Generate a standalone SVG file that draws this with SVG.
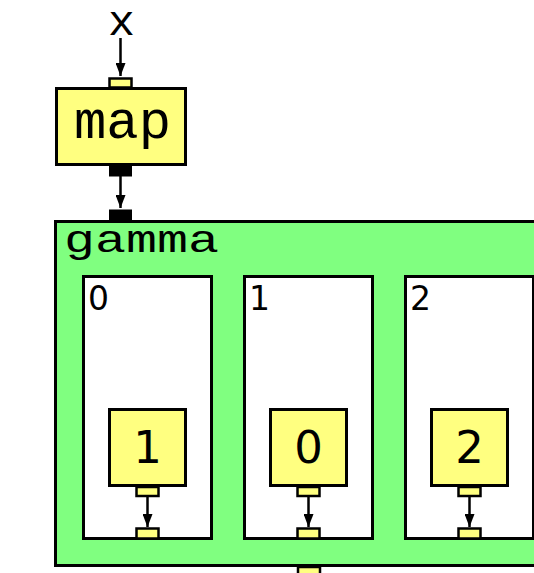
<svg xmlns="http://www.w3.org/2000/svg" width="534" height="573" viewBox="0 0 534 573">
<style>
.node{fill:#FFFF80;stroke:#000;stroke-width:3}
.port{fill:#FFFF80;stroke:#000;stroke-width:2.5}
.bport{fill:#000;stroke:#000;stroke-width:1}
.cont{fill:#80FF80;stroke:#000;stroke-width:3}
.sub{fill:#fff;stroke:#000;stroke-width:3}
.mono{font-family:"Courier New","Liberation Mono",monospace;fill:#000}
.sans{font-family:"DejaVu Sans",sans-serif;fill:#000}
.edge{stroke:#000;stroke-width:2.5;fill:none}
</style>
<defs>
<marker id="arrow" markerWidth="13" markerHeight="10" refX="13" refY="5" orient="auto" markerUnits="userSpaceOnUse">
<path d="M0,0 L13,5 L0,10 Z" fill="#000"/>
</marker>
</defs>
<g id="input-x">
<text class="mono" x="108" y="35" font-size="42" textLength="27" lengthAdjust="spacingAndGlyphs">x</text>
</g>
<g id="map">
<rect class="node" x="56.5" y="88.5" width="129" height="76"/>
<rect class="port" x="109.5" y="78.5" width="22" height="9"/>
<rect class="bport" x="109.5" y="166" width="22" height="10"/>
<text class="mono" x="74" y="138" font-size="54" textLength="97" lengthAdjust="spacingAndGlyphs">map</text>
</g>
<g id="gamma">
<rect class="cont" x="55.5" y="221.5" width="600" height="344"/>
<rect class="bport" x="109.5" y="210" width="22" height="11"/>
<rect class="port" x="298" y="567" width="22" height="12"/>
<text class="mono" x="64" y="252" font-size="38" textLength="155" lengthAdjust="spacingAndGlyphs">gamma</text>
</g>
<g id="branch-0">
<rect class="sub" x="83.5" y="276.5" width="128" height="262"/>
<text class="sans" x="88" y="310" font-size="33">0</text>
<g id="node-1">
<rect class="node" x="109.5" y="409.5" width="76" height="76"/>
<text class="sans" x="147.5" y="463" font-size="45" text-anchor="middle">1</text>
<rect class="port" x="136.5" y="487" width="22" height="9"/>
</g>
<rect class="port" x="136.5" y="528.5" width="22" height="10"/>
</g>
<g id="branch-1">
<rect class="sub" x="244.5" y="276.5" width="128" height="262"/>
<text class="sans" x="249" y="310" font-size="33">1</text>
<g id="node-0">
<rect class="node" x="270.5" y="409.5" width="76" height="76"/>
<text class="sans" x="308.5" y="463" font-size="45" text-anchor="middle">0</text>
<rect class="port" x="297.5" y="487" width="22" height="9"/>
</g>
<rect class="port" x="297.5" y="528.5" width="22" height="10"/>
</g>
<g id="branch-2">
<rect class="sub" x="405.5" y="276.5" width="128" height="262"/>
<text class="sans" x="410" y="310" font-size="33">2</text>
<g id="node-2">
<rect class="node" x="431.5" y="409.5" width="76" height="76"/>
<text class="sans" x="469.5" y="463" font-size="45" text-anchor="middle">2</text>
<rect class="port" x="458.5" y="487" width="22" height="9"/>
</g>
<rect class="port" x="458.5" y="528.5" width="22" height="10"/>
</g>
<g id="connectors">
<line class="edge" x1="120.5" y1="38" x2="120.5" y2="76" marker-end="url(#arrow)"/>
<line class="edge" x1="120.5" y1="176" x2="120.5" y2="208" marker-end="url(#arrow)"/>
<line class="edge" x1="147.5" y1="496" x2="147.5" y2="527" marker-end="url(#arrow)"/>
<line class="edge" x1="308.5" y1="496" x2="308.5" y2="527" marker-end="url(#arrow)"/>
<line class="edge" x1="469.5" y1="496" x2="469.5" y2="527" marker-end="url(#arrow)"/>
</g>
</svg>
